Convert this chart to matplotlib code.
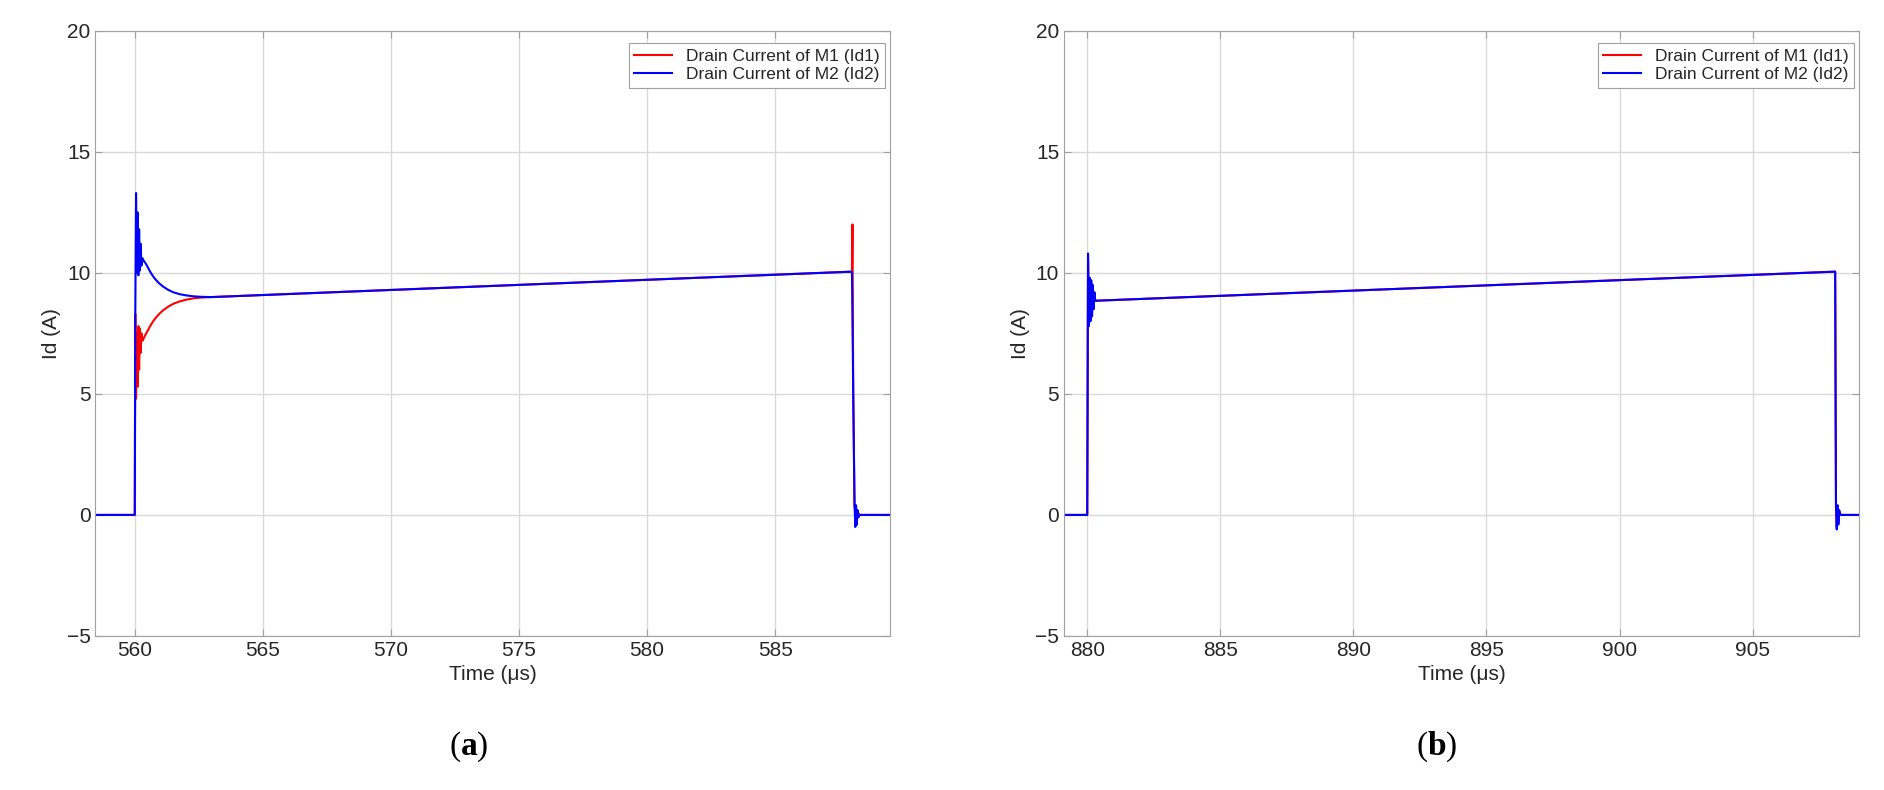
import matplotlib
matplotlib.use("Agg")
import matplotlib.pyplot as plt

plt.rcParams['font.family'] = ['Liberation Sans', 'DejaVu Sans']
plt.rcParams['mathtext.fontset'] = 'custom'
plt.rcParams['mathtext.rm'] = 'Liberation Serif'
plt.rcParams['mathtext.bf'] = 'Liberation Serif:bold'

# Panel (a) waveforms (time in us, current in A)
t_a_id2 = [558.46, 560.0, 560.02, 560.05, 560.08, 560.11, 560.14, 560.17, 560.2, 560.23, 560.26, 560.3,
           560.35, 560.42, 560.5, 560.6, 560.7, 560.8, 560.95, 561.1, 561.3, 561.5, 561.75, 562.0,
           562.3, 562.6, 563.0, 588.0, 588.05, 588.1, 588.13, 588.16,
           588.19, 588.22, 588.25, 588.3, 589.5]
i_a_id2 = [0, 0, 8.3, 13.3, 10.0, 12.5, 9.9, 11.8, 10.1, 11.2, 10.3, 10.6,
           10.5, 10.4, 10.25, 10.05, 9.88, 9.74, 9.57, 9.44, 9.3, 9.2, 9.12, 9.07,
           9.03, 9.01, 9.0, 10.05, 5.0, 0.5, -0.5, 0.4,
           -0.4, 0.2, -0.1, 0, 0]
t_a_id1 = [558.46, 560.0, 560.02, 560.05, 560.08, 560.11, 560.14, 560.17, 560.2, 560.23, 560.26, 560.3,
           560.35, 560.42, 560.5, 560.6, 560.7, 560.8, 560.95, 561.1, 561.3, 561.5, 561.75, 562.0,
           562.3, 562.6, 563.0, 588.0, 588.02, 588.05, 588.1, 588.3, 589.5]
i_a_id1 = [0, 0, 8.3, 4.8, 7.5, 5.3, 7.8, 6.0, 7.7, 6.7, 7.5, 7.2,
           7.3, 7.45, 7.6, 7.8, 7.97, 8.12, 8.3, 8.45, 8.6, 8.72, 8.82, 8.89,
           8.95, 8.98, 9.0, 10.05, 12.0, 5.0, 0.3, 0, 0]

# Panel (b) waveforms
t_b = [879.13, 880.0, 880.03, 880.06, 880.09, 880.12, 880.15, 880.18, 880.21, 880.24, 880.27, 880.3,
       880.35, 908.1, 908.13, 908.16, 908.19, 908.22, 908.25, 908.3, 909.0]
i_b_id2 = [0, 0, 10.8, 7.8, 9.8, 8.0, 9.7, 8.2, 9.5, 8.5, 9.2, 8.85,
           8.85, 10.05, 0.4, -0.6, 0.4, -0.4, 0.2, 0, 0]
i_b_id1 = [0, 0, 10.6, 7.9, 9.7, 8.1, 9.6, 8.3, 9.4, 8.6, 9.1, 8.85,
           8.85, 10.05, 0.3, -0.5, 0.3, -0.3, 0.1, 0, 0]

labels = ['Drain Current of M1 (Id1)', 'Drain Current of M2 (Id2)']
xlims = [(558.46, 589.5), (879.13, 909.0)]
xticks = [[560, 565, 570, 575, 580, 585], [880, 885, 890, 895, 900, 905]]
yticks = [-5, 0, 5, 10, 15, 20]
panel_labels = ['a', 'b']

fig = plt.figure(figsize=(18.84, 7.90), dpi=100)
axa = fig.add_axes([0.0506, 0.195, 0.422, 0.766])
axb = fig.add_axes([0.5648, 0.195, 0.422, 0.766])

data = [(t_a_id1, i_a_id1, t_a_id2, i_a_id2), (t_b, i_b_id1, t_b, i_b_id2)]
for k, ax in enumerate([axa, axb]):
    t1, i1, t2, i2 = data[k]
    ax.plot(t1, i1, color='#ff0000', lw=1.5, label=labels[0])
    ax.plot(t2, i2, color='#0000ff', lw=1.5, label=labels[1])
    ax.set_xlim(*xlims[k])
    ax.set_ylim(-5, 20)
    ax.set_xticks(xticks[k])
    ax.set_yticks(yticks)
    ax.set_yticklabels(['\u22125', '0', '5', '10', '15', '20'])
    ax.grid(True, color='#d9d9d9', lw=1.0)
    ax.set_axisbelow(True)
    for s in ax.spines.values():
        s.set_color('#a0a0a0')
    ax.tick_params(direction='in', top=True, right=True, labelsize=15, colors='#262626',
                   length=5, width=0.8)
    ax.tick_params(color='#a0a0a0')
    ax.set_xlabel('Time (\u03bcs)', fontsize=15, color='#262626', labelpad=4)
    ax.set_ylabel('Id (A)', fontsize=15, color='#262626')
    leg = ax.legend(loc='upper right', bbox_to_anchor=(0.9975, 0.985), fontsize=12.5,
                    fancybox=False, framealpha=1, edgecolor='#a0a0a0', borderpad=0.3,
                    handlelength=2.2, labelspacing=0.2, borderaxespad=0.2)
    leg.get_frame().set_linewidth(0.8)
    for txt in leg.get_texts():
        txt.set_color('#262626')
    fig.text(ax.get_position().x0 + (468 - 95) / 1884, 1 - 747 / 790,
             r'$\mathrm{(}\mathbf{%s}\mathrm{)}$' % panel_labels[k],
             fontsize=24, ha='center', va='center')

fig.savefig('out.png', dpi=100, facecolor='white')
